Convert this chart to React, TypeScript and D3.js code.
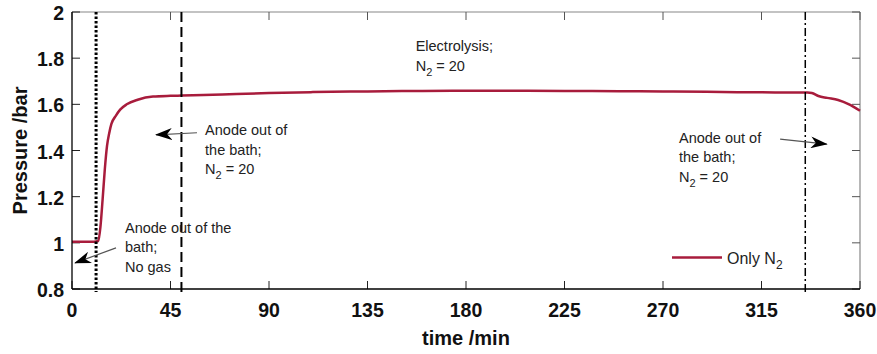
import React, { useEffect, useRef } from "react";
import * as d3 from "d3";

// Pressure record, only N2
const timeMin = [
  0, 5, 10, 12, 13, 14, 15, 16, 17, 18, 20, 22, 25, 30, 37, 45, 50, 60, 75, 90,
  110, 135, 160, 180, 200, 225, 250, 270, 290, 315, 330, 336, 338, 341, 345,
  350, 355, 360,
];
const pressureBar = [
  1.005, 1.005, 1.005, 1.008, 1.07, 1.19, 1.32, 1.42, 1.475, 1.515, 1.55, 1.577,
  1.6, 1.62, 1.634, 1.637, 1.638, 1.64, 1.645, 1.649, 1.653, 1.656, 1.658,
  1.659, 1.659, 1.658, 1.657, 1.656, 1.654, 1.652, 1.651, 1.651, 1.649, 1.636,
  1.628, 1.619, 1.6, 1.572,
];

const xTicks = [0, 45, 90, 135, 180, 225, 270, 315, 360];
const yTicks = [0.8, 1, 1.2, 1.4, 1.6, 1.8, 2];
const yTickLabels = ["0.8", "1", "1.2", "1.4", "1.6", "1.8", "2"];

// event markers (min)
const markerTimes = [11, 50, 335];
const markerStyles = ["dotted", "dashed", "dashdot"];

// annotation text, anchor in data units (time, pressure)
const noteLines = [
  [["Anode out of the"], ["bath;"], ["No gas"]],
  [["Anode out of"], ["the bath;"], ["N", "2", " = 20"]],
  [["Electrolysis;"], ["N", "2", " = 20"]],
  [["Anode out of"], ["the bath;"], ["N", "2", " = 20"]],
];
const noteTime = [24.2, 60.8, 157, 277.3];
const notePressure = [1.043, 1.467, 1.831, 1.433];

// arrows: [fromTime, fromP, toTime, toP]
const arrows = [
  [20.1, 0.978, 1.4, 0.913],
  [57.1, 1.477, 38.4, 1.468],
  [323.5, 1.449, 344.8, 1.428],
];

const seriesName = "Only N";

export default function App() {
  const svgRef = useRef<SVGSVGElement>(null);
  const width = 877;
  const height = 354;

  useEffect(() => {
    const svg = d3.select(svgRef.current);
    svg.selectAll("*").remove();

    const margin = { top: 12, right: 17, bottom: 65, left: 72 };
    const x = d3.scaleLinear().domain([0, 360]).range([margin.left, width - margin.right]);
    const y = d3.scaleLinear().domain([0.8, 2]).range([height - margin.bottom, margin.top]);
    const x0 = x(0), x1 = x(360), y0 = y(0.8), y1 = y(2);
    const tickLen = 8;

    svg.attr("width", width).attr("height", height);

    const defs = svg.append("defs");
    defs
      .append("marker")
      .attr("id", "arrowHead")
      .attr("viewBox", "0 0 17 12")
      .attr("refX", 16)
      .attr("refY", 6)
      .attr("markerWidth", 17)
      .attr("markerHeight", 12)
      .attr("markerUnits", "userSpaceOnUse")
      .attr("orient", "auto")
      .append("path")
      .attr("d", "M0,0 L17,6 L0,12 L5,6 Z")
      .attr("fill", "#000");

    // frame: top/right grey, left/bottom black
    svg.append("line").attr("x1", x0).attr("x2", x1).attr("y1", y1).attr("y2", y1)
      .attr("stroke", "#888").attr("stroke-width", 1.2);
    svg.append("line").attr("x1", x1).attr("x2", x1).attr("y1", y1).attr("y2", y0)
      .attr("stroke", "#888").attr("stroke-width", 1.2);

    // ticks (inside)
    svg.selectAll(".xtick-b").data(xTicks).enter().append("line")
      .attr("x1", (d) => x(d)).attr("x2", (d) => x(d))
      .attr("y1", y0).attr("y2", y0 - tickLen)
      .attr("stroke", "#222").attr("stroke-width", 1);
    svg.selectAll(".xtick-t").data(xTicks).enter().append("line")
      .attr("x1", (d) => x(d)).attr("x2", (d) => x(d))
      .attr("y1", y1).attr("y2", y1 + tickLen)
      .attr("stroke", "#555").attr("stroke-width", 1);
    svg.selectAll(".ytick-l").data(yTicks).enter().append("line")
      .attr("x1", x0).attr("x2", x0 + tickLen)
      .attr("y1", (d) => y(d)).attr("y2", (d) => y(d))
      .attr("stroke", "#222").attr("stroke-width", 1);
    svg.selectAll(".ytick-r").data(yTicks).enter().append("line")
      .attr("x1", x1).attr("x2", x1 - tickLen)
      .attr("y1", (d) => y(d)).attr("y2", (d) => y(d))
      .attr("stroke", "#555").attr("stroke-width", 1);

    // curve
    const line = d3
      .line<number>()
      .x((_, i) => x(timeMin[i]))
      .y((d) => y(d))
      .curve(d3.curveMonotoneX);
    svg.append("path")
      .datum(pressureBar)
      .attr("d", line)
      .attr("fill", "none")
      .attr("stroke", "#a81c3c")
      .attr("stroke-width", 2.5);

    // event markers
    const dash: Record<string, string> = {
      dotted: "2.5,2",
      dashed: "10,5",
      dashdot: "8,3,2,3",
    };
    const sw: Record<string, number> = { dotted: 3, dashed: 2, dashdot: 1.5 };
    svg.selectAll(".marker").data(markerTimes).enter().append("line")
      .attr("x1", (d) => x(d)).attr("x2", (d) => x(d))
      .attr("y1", y1).attr("y2", y0 + 3)
      .attr("stroke", "#000")
      .attr("stroke-width", (_, i) => sw[markerStyles[i]])
      .attr("stroke-dasharray", (_, i) => dash[markerStyles[i]]);

    // left/bottom axis lines on top
    svg.append("line").attr("x1", x0).attr("x2", x0).attr("y1", y1).attr("y2", y0)
      .attr("stroke", "#000").attr("stroke-width", 1.3);
    svg.append("line").attr("x1", x0).attr("x2", x1).attr("y1", y0).attr("y2", y0)
      .attr("stroke", "#000").attr("stroke-width", 1.3);

    // tick labels
    const font = "'Liberation Sans', Arial, sans-serif";
    svg.selectAll(".xlab").data(xTicks).enter().append("text")
      .attr("x", (d) => x(d)).attr("y", y0 + 28)
      .attr("text-anchor", "middle")
      .attr("font-family", font).attr("font-size", 19.5).attr("font-weight", "bold")
      .attr("fill", "#111")
      .text((d) => d);
    svg.selectAll(".ylab").data(yTicks).enter().append("text")
      .attr("x", x0 - 8).attr("y", (d) => y(d) + 8)
      .attr("text-anchor", "end")
      .attr("font-family", font).attr("font-size", 19.5).attr("font-weight", "bold")
      .attr("fill", "#111")
      .text((_, i) => yTickLabels[i]);

    // axis titles
    svg.append("text")
      .attr("x", (x0 + x1) / 2).attr("y", 345)
      .attr("text-anchor", "middle")
      .attr("font-family", font).attr("font-size", 20).attr("font-weight", "bold")
      .attr("fill", "#111")
      .text("time /min");
    svg.append("text")
      .attr("transform", `translate(27,${(y0 + y1) / 2}) rotate(-90)`)
      .attr("text-anchor", "middle")
      .attr("font-family", font).attr("font-size", 20).attr("font-weight", "bold")
      .attr("fill", "#111")
      .text("Pressure /bar");

    // annotations
    noteLines.forEach((lines, k) => {
      const t = svg.append("text")
        .attr("font-family", font).attr("font-size", 14.5)
        .attr("fill", "#222");
      lines.forEach((parts, j) => {
        const ly = y(notePressure[k]) + j * 19.5;
        t.append("tspan").attr("x", x(noteTime[k])).attr("y", ly).text(parts[0]);
        if (parts.length > 1) {
          t.append("tspan").attr("dy", 5).attr("font-size", 11).text(parts[1]);
          t.append("tspan").attr("dy", -5).text(parts[2]);
        }
      });
    });

    svg.selectAll(".arrow").data(arrows).enter().append("line")
      .attr("x1", (d) => x(d[0])).attr("y1", (d) => y(d[1]))
      .attr("x2", (d) => x(d[2])).attr("y2", (d) => y(d[3]))
      .attr("stroke", "#555").attr("stroke-width", 1.2)
      .attr("marker-end", "url(#arrowHead)");

    // legend
    const lg = svg.append("g").attr("transform", `translate(672,257.5)`);
    lg.append("line").attr("x1", 0).attr("x2", 50).attr("y1", 0).attr("y2", 0)
      .attr("stroke", "#a81c3c").attr("stroke-width", 2.5);
    const lt = lg.append("text").attr("x", 55).attr("y", 6)
      .attr("font-family", font).attr("font-size", 16).attr("fill", "#222");
    lt.append("tspan").text(seriesName);
    lt.append("tspan").attr("dy", 5).attr("font-size", 12).text("2");
  }, []);

  return (
    <svg
      ref={svgRef}
      style={{ position: "absolute", left: 0, top: 0, background: "#fff" }}
    />
  );
}
